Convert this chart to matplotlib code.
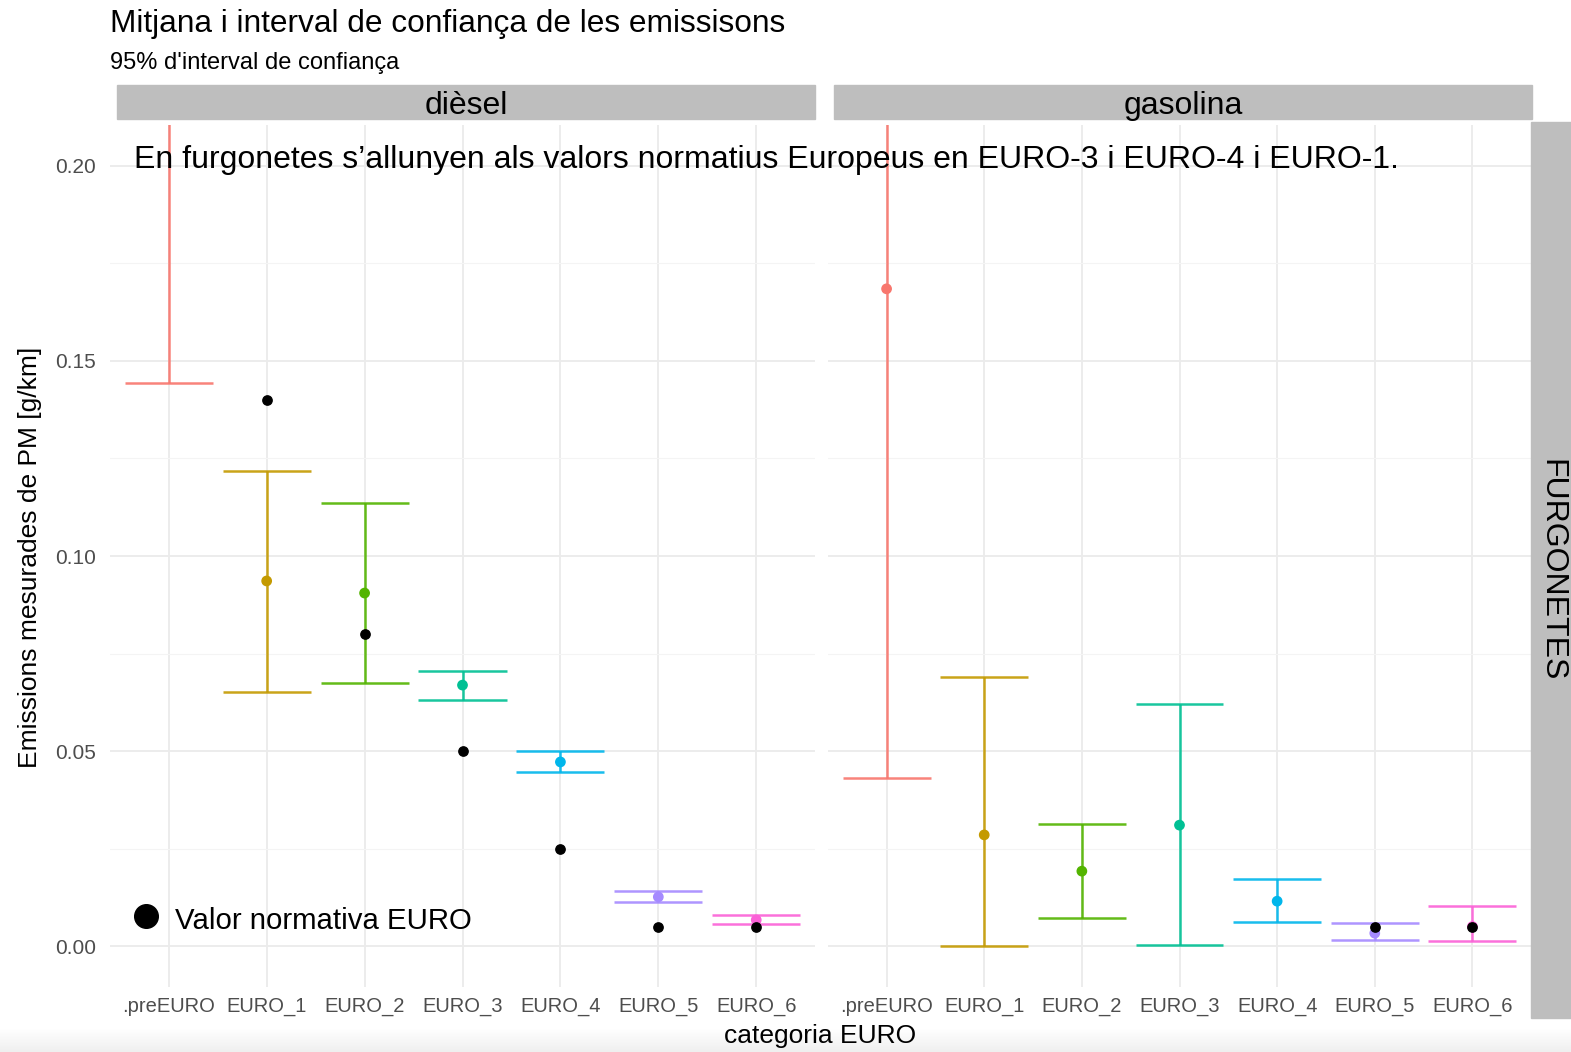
import numpy as np
import matplotlib
matplotlib.use("Agg")
from matplotlib import pyplot as plt
from matplotlib.patches import Rectangle

plt.rcParams['font.family'] = ['Liberation Sans', 'DejaVu Sans']

categories = ['.preEURO', 'EURO_1', 'EURO_2', 'EURO_3', 'EURO_4', 'EURO_5', 'EURO_6']
colors = ['#F8766D', '#C49A00', '#53B400', '#00C094', '#00B6EB', '#A58AFF', '#FB61D7']

# mean and 95% confidence interval per fuel type
diesel_mean = [0.235, 0.0936, 0.0905, 0.0669, 0.0472, 0.0126, 0.0067]
diesel_low = [0.1444, 0.0651, 0.0674, 0.0631, 0.0446, 0.0113, 0.0056]
diesel_high = [0.330, 0.1218, 0.1136, 0.0705, 0.0500, 0.0141, 0.0079]
diesel_norm = [None, 0.140, 0.080, 0.050, 0.025, 0.005, 0.005]

petrol_mean = [0.1685, 0.0285, 0.0192, 0.0310, 0.0115, 0.0033, 0.0050]
petrol_low = [0.0431, 0.0000, 0.0072, 0.0003, 0.0062, 0.0015, 0.0013]
petrol_high = [0.300, 0.0690, 0.0313, 0.0620, 0.0172, 0.0059, 0.0103]
petrol_norm = [None, None, None, None, None, 0.005, 0.005]

W, H = 1571, 1052


def fx(px):
    return px / W


def fy(py):
    return 1 - py / H


def draw_panel(ax, means, lows, highs, norms):
    x = np.arange(1, len(categories) + 1)
    ax.set_xlim(0.4, 7.6)
    ax.set_ylim(-0.0105, 0.2105)
    ax.set_yticks([0, 0.05, 0.10, 0.15, 0.20])
    ax.set_yticks([0.025, 0.075, 0.125, 0.175], minor=True)
    ax.set_xticks(x)
    ax.set_xticklabels(categories)
    ax.grid(which='major', color='#EBEBEB', lw=1.3)
    ax.grid(which='minor', axis='y', color='#F4F4F4', lw=0.8)
    ax.set_axisbelow(True)
    for s in ax.spines.values():
        s.set_visible(False)
    ax.tick_params(which='both', length=0)
    ax.tick_params(axis='y', labelsize=15, labelcolor='#4D4D4D', pad=10)
    ax.tick_params(axis='x', labelsize=14.5, labelcolor='#4D4D4D', pad=7)
    for xi, lo, hi, c in zip(x, lows, highs, colors):
        ax.vlines(xi, lo, hi, color=c, lw=1.8, alpha=0.9)
        ax.hlines([lo, hi], xi - 0.45, xi + 0.45, color=c, lw=1.8, alpha=0.9)
    ax.scatter(x, means, s=45, c=colors, zorder=3, clip_on=True)
    nx = [xi for xi, n in zip(x, norms) if n is not None]
    ny = [n for n in norms if n is not None]
    ax.scatter(nx, ny, s=45, c='black', zorder=4)


fig = plt.figure(figsize=(W / 100, H / 100), dpi=100)

ax1 = fig.add_axes([fx(110), fy(987), fx(815 - 110), fy(125) - fy(987)])
ax2 = fig.add_axes([fx(828), fy(987), fx(1531 - 828), fy(125) - fy(987)])
draw_panel(ax1, diesel_mean, diesel_low, diesel_high, diesel_norm)
draw_panel(ax2, petrol_mean, petrol_low, petrol_high, petrol_norm)
ax2.set_yticklabels([])

# facet strips
for x0, x1, label in [(117, 815, 'dièsel'), (834, 1532, 'gasolina')]:
    fig.patches.append(Rectangle((fx(x0), fy(119)), fx(x1 - x0), fy(85) - fy(119),
                                 transform=fig.transFigure, color='#BEBEBE', zorder=0))
    fig.text(fx((x0 + x1) / 2), fy(106), label, ha='center', va='center', fontsize=23)
fig.patches.append(Rectangle((fx(1531), fy(1018)), fx(W - 1531), fy(122) - fy(1018),
                             transform=fig.transFigure, color='#BEBEBE', zorder=0))
fig.text(fx(1551), fy(570), 'FURGONETES', rotation=-90, ha='center', va='center', fontsize=23)

# light shading along the bottom edge
grad = np.linspace(1.0, 0.935, 50).reshape(-1, 1)
gax = fig.add_axes([0, 0, 1, fy(1028)], zorder=-1)
gax.imshow(grad, aspect='auto', cmap='gray', vmin=0, vmax=1, extent=[0, 1, 0, 1])
gax.axis('off')

fig.text(fx(110), fy(24), 'Mitjana i interval de confiança de les emissisons',
         ha='left', va='center', fontsize=22.8)
fig.text(fx(110), fy(63), "95% d'interval de confiança", ha='left', va='center', fontsize=17)
fig.text(fx(30), fy(557), 'Emissions mesurades de PM [g/km]', rotation=90,
         ha='center', va='center', fontsize=19)
fig.text(fx(820), fy(1036), 'categoria EURO', ha='center', va='center', fontsize=19)

fig.text(fx(134), fy(160), 'En furgonetes s’allunyen als valors normatius Europeus en EURO-3 i EURO-4 i EURO-1.',
         ha='left', va='center', fontsize=23)

fig.lines.append(plt.Line2D([fx(146)], [fy(916)], marker='o', markersize=17, color='black',
                            transform=fig.transFigure))
fig.text(fx(175), fy(921), 'Valor normativa EURO', ha='left', va='center', fontsize=21.2)

fig.savefig('out.png', dpi=100)
